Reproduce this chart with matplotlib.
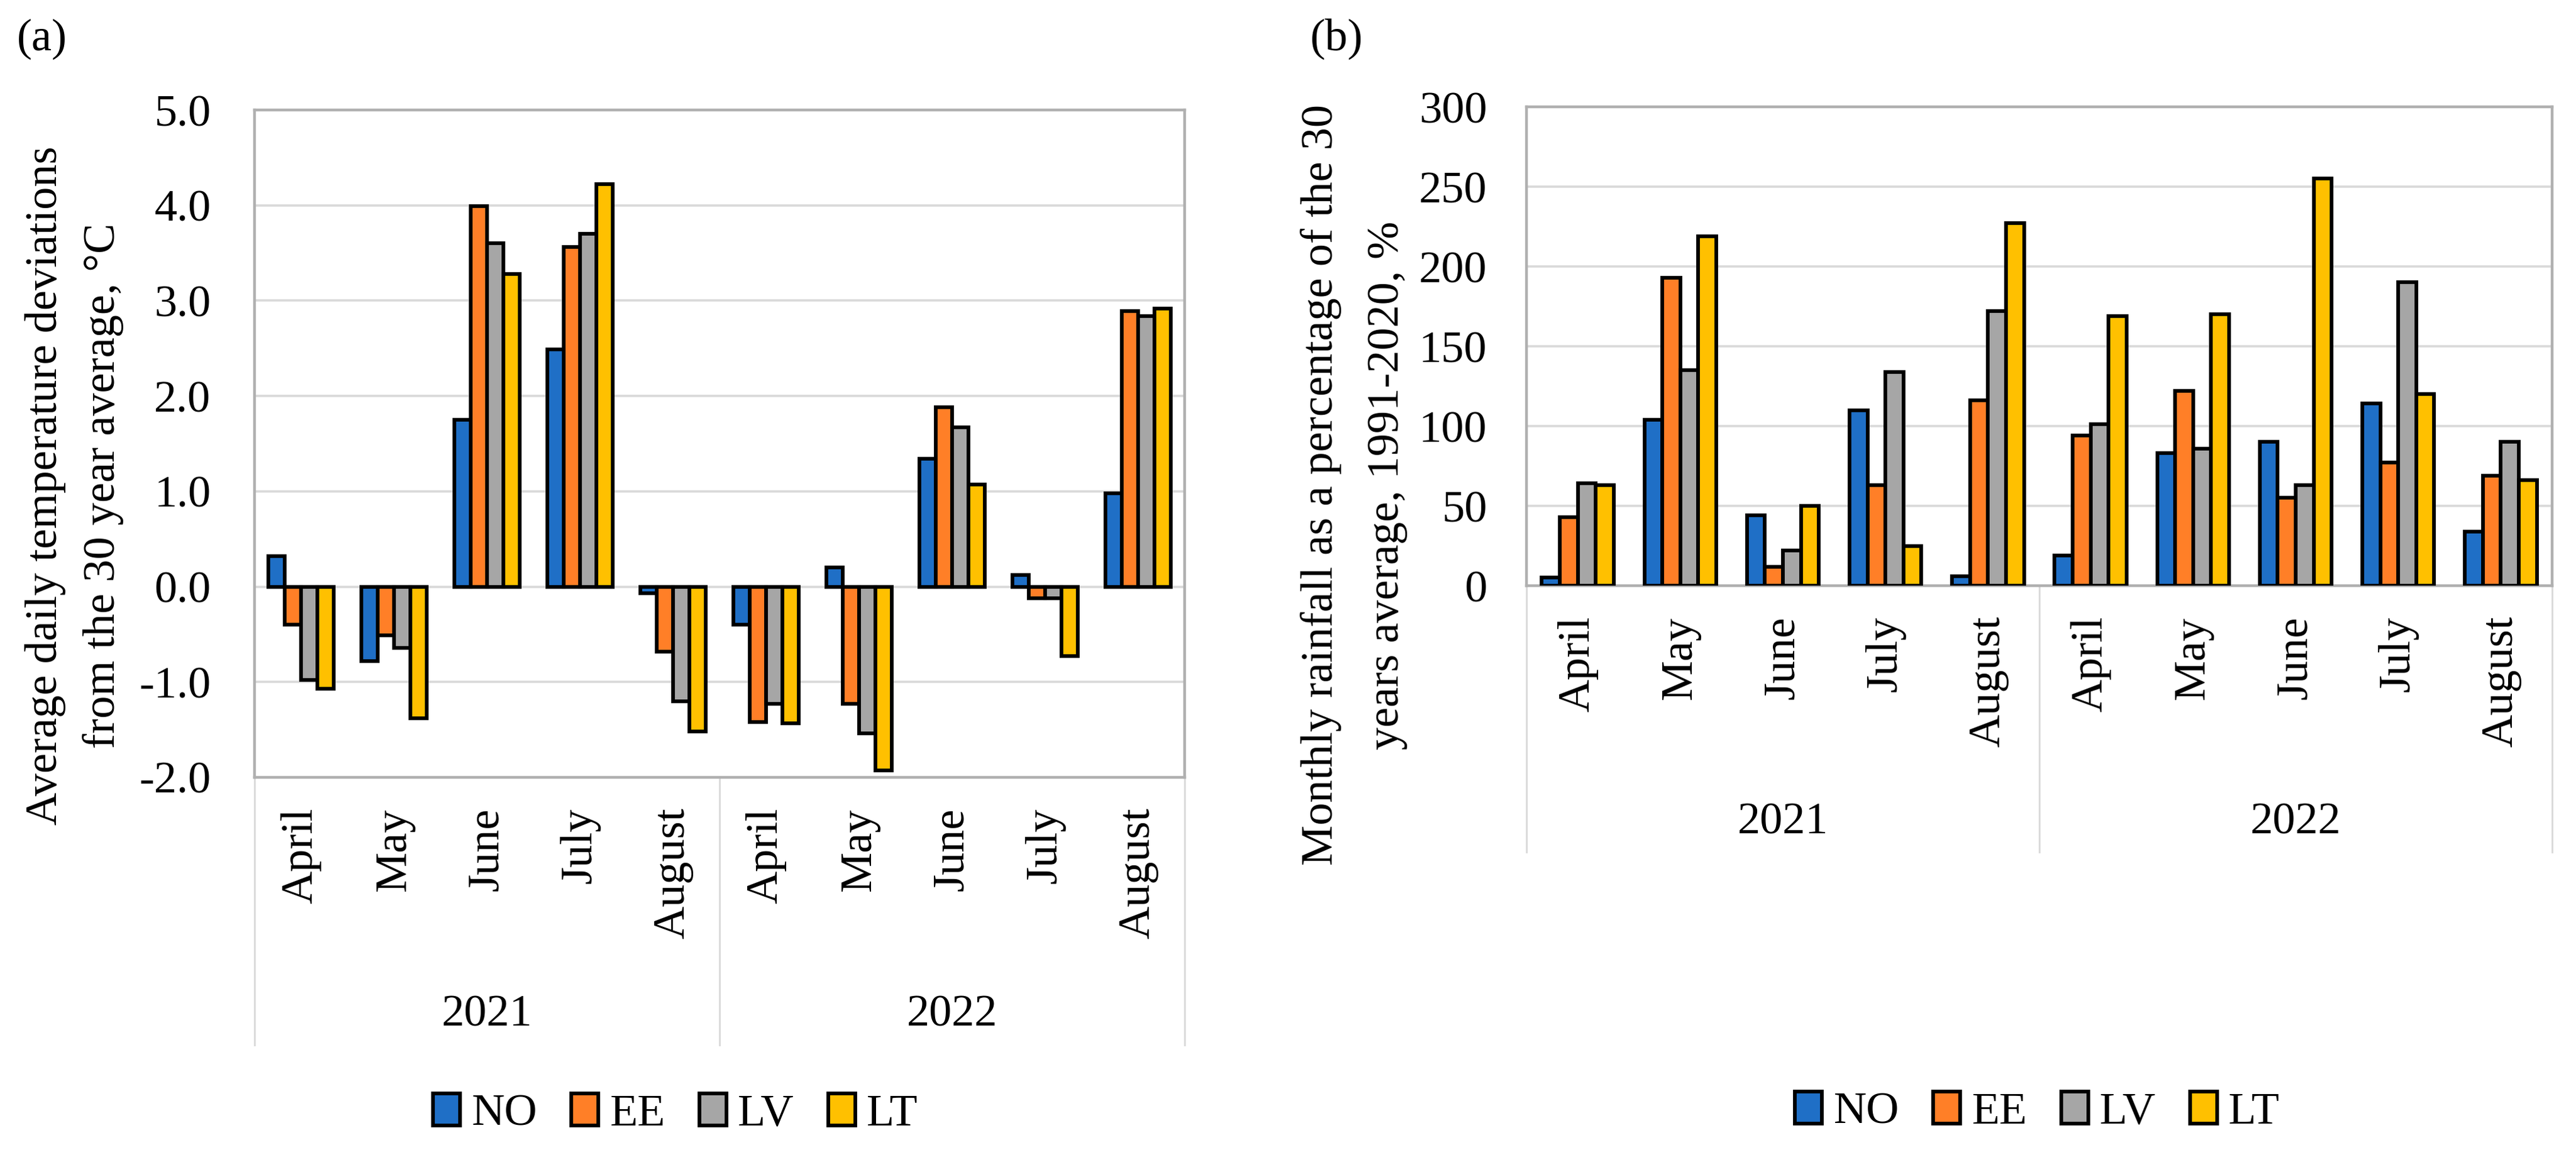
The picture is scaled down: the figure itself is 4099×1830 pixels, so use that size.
import matplotlib
matplotlib.use('Agg')
import matplotlib.pyplot as plt
import matplotlib.transforms as mtransforms
import numpy as np

# ─── Data ─────────────────────────────────────────────────────────────────────
months = ["April", "May", "June", "July", "August"] * 2
years = ["2021", "2022"]
series = ["NO", "EE", "LV", "LT"]
colors = ["#1F6FC6", "#FF7F27", "#A6A6A6", "#FFC000"]

# (a) temperature deviation, °C
temp_no = [0.32, -0.78, 1.75, 2.49, -0.07, -0.40, 0.20, 1.34, 0.12, 0.98]
temp_ee = [-0.40, -0.51, 3.99, 3.56, -0.68, -1.42, -1.23, 1.88, -0.12, 2.89]
temp_lv = [-0.98, -0.64, 3.60, 3.70, -1.20, -1.23, -1.54, 1.67, -0.12, 2.84]
temp_lt = [-1.07, -1.38, 3.28, 4.22, -1.52, -1.43, -1.93, 1.07, -0.73, 2.92]

# (b) rainfall, % of 1991-2020 average
rain_no = [5, 104, 44, 110, 6, 19, 83, 90, 114, 34]
rain_ee = [43, 193, 12, 63, 116, 94, 122, 55, 77, 69]
rain_lv = [64, 135, 22, 134, 172, 101, 86, 63, 190, 90]
rain_lt = [63, 219, 50, 25, 227, 169, 170, 255, 120, 66]

temp_ticks = [-2.0, -1.0, 0.0, 1.0, 2.0, 3.0, 4.0, 5.0]
rain_ticks = [0, 50, 100, 150, 200, 250, 300]

# ─── Style ────────────────────────────────────────────────────────────────────
FONT = ['Liberation Serif', 'DejaVu Serif']
FS = 52
plt.rcParams['font.family'] = FONT
plt.rcParams['font.size'] = FS
SPINE = '#B0B0B0'
GRID = '#D9D9D9'
W = 0.175

fig = plt.figure(figsize=(40.99, 18.30), dpi=100)
ax_a = fig.add_axes([405/4099, 1-1237/1830, (1885-405)/4099, (1237-175)/1830])
ax_b = fig.add_axes([2429/4099, 1-932/1830, (4061-2429)/4099, (932-170)/1830])


def draw_panel(ax, data, ticks, labels, ypad, cat_depth, year_y):
    x = np.arange(len(months))
    handles = []
    for j, (vals, col, name) in enumerate(zip(data, colors, series)):
        h = ax.bar(x + (j - 1.5) * W, vals, width=W, color=col,
                   edgecolor='black', linewidth=4.2, label=name, zorder=3)
        handles.append(h)
    ax.set_xlim(-0.5, len(months) - 0.5)
    ax.set_ylim(ticks[0], ticks[-1])
    ax.set_yticks(ticks, labels=labels)
    ax.set_xticks(x, labels=months, rotation=90)
    ax.tick_params(axis='x', length=0, pad=35, labelsize=FS)
    ax.tick_params(axis='y', length=0, pad=ypad, labelsize=FS)
    ax.grid(axis='y', color=GRID, linewidth=2.6, zorder=0)
    ax.set_axisbelow(True)
    for s in ax.spines.values():
        s.set_color(SPINE)
        s.set_linewidth(3.2)
    # multi-level category axis: year separators and year labels
    trans = mtransforms.blended_transform_factory(ax.transData, ax.transAxes)
    for xs in [-0.5, 4.5, 9.5]:
        ax.plot([xs, xs], [0, -cat_depth], transform=trans, color=GRID,
                linewidth=2.0, clip_on=False)
    for k, yr in enumerate(years):
        ax.text(2 + 5 * k, -year_y, yr, transform=trans, ha='center',
                va='center', fontsize=FS)
    return handles


h_a = draw_panel(ax_a, [temp_no, temp_ee, temp_lv, temp_lt], temp_ticks,
                 [f"{v:.1f}" for v in temp_ticks], 50, 0.401, 0.356)
h_b = draw_panel(ax_b, [rain_no, rain_ee, rain_lv, rain_lt], rain_ticks,
                 [str(v) for v in rain_ticks], 45, 0.556, 0.495)

# y labels (two centred lines each)
fig.text(72/4099, 1-773/1830, "Average daily temperature deviations",
         rotation=90, ha='center', va='center', fontsize=FS)
fig.text(164/4099, 1-773/1830, "from the 30 year average, °C",
         rotation=90, ha='center', va='center', fontsize=FS)
fig.text(2102/4099, 1-772/1830, "Monthly rainfall as a percentage of the 30",
         rotation=90, ha='center', va='center', fontsize=FS)
fig.text(2207/4099, 1-772/1830, "years average, 1991-2020, %",
         rotation=90, ha='center', va='center', fontsize=FS)

# panel letters
fig.text(27/4099, 1-62/1830, "(a)", ha='left', va='center', fontsize=FS)
fig.text(2085/4099, 1-62/1830, "(b)", ha='left', va='center', fontsize=FS)

# legends
for handles, cx, cy in [(h_a, 1075, 1773), (h_b, 3242, 1770)]:
    fig.legend(handles=handles, labels=series, loc='center',
               bbox_to_anchor=(cx/4099, 1-cy/1830), ncol=4, frameon=False,
               fontsize=FS, handlelength=0.6, handleheight=0.7,
               handletextpad=0.25, columnspacing=0.75, borderpad=0)

fig.savefig('out.png', dpi=100, facecolor='white')
